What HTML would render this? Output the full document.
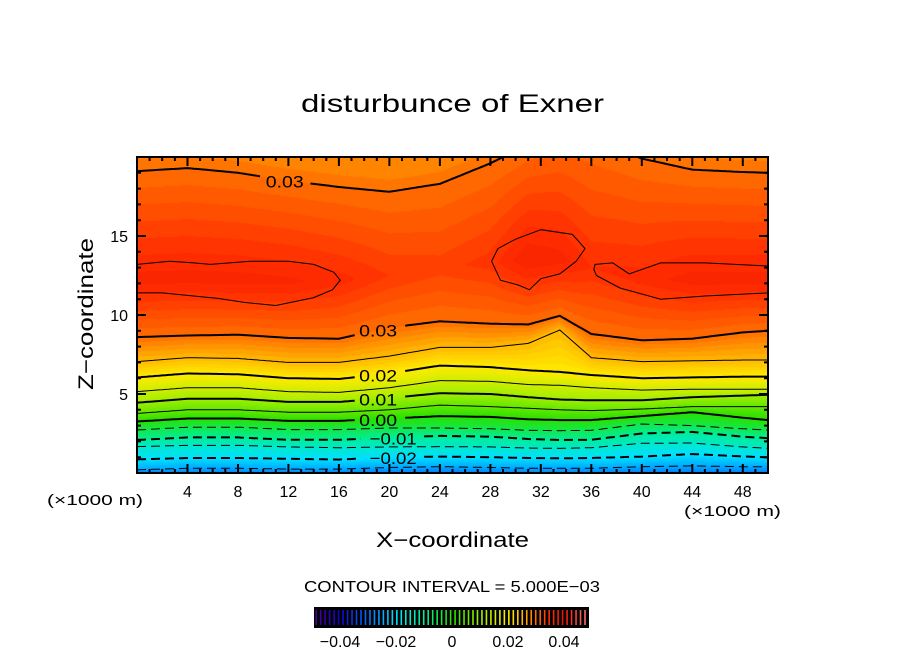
<!DOCTYPE html>
<html><head><meta charset="utf-8"><style>
html,body{margin:0;padding:0;background:#fff;}
#wrap{position:relative;width:904px;height:654px;overflow:hidden;font-family:"Liberation Sans",sans-serif;}
canvas{position:absolute;left:137px;top:157px;}
svg{position:absolute;left:0;top:0;}
</style></head><body>
<div id="wrap">
<canvas id="cv" width="631" height="316"></canvas>
<svg id="sv" width="904" height="654">
<defs><clipPath id="clip"><rect x="137" y="157" width="631" height="316"/></clipPath></defs>
<text x="301" y="112" textLength="303" lengthAdjust="spacingAndGlyphs" font-size="25">disturbunce of Exner</text>
<text x="376" y="547" textLength="153" lengthAdjust="spacingAndGlyphs" font-size="21">X−coordinate</text>
<text transform="translate(93,390) rotate(-90)" textLength="152" lengthAdjust="spacingAndGlyphs" font-size="21">Z−coordinate</text>
<text x="47" y="505" textLength="96" lengthAdjust="spacingAndGlyphs" font-size="15">(×1000 m)</text>
<text x="684" y="516" textLength="97" lengthAdjust="spacingAndGlyphs" font-size="15">(×1000 m)</text>
<text x="304" y="592" textLength="296" lengthAdjust="spacingAndGlyphs" font-size="16">CONTOUR INTERVAL = 5.000E−03</text>
<g id="lines" clip-path="url(#clip)"></g>
<g id="labels"></g>
<g id="axes"></g>
<g id="cbar"></g>
</svg>
</div>
<script>
const xs=[0,4,8,12,16,20,24,28,31,33.5,36,40,44,48,50];
const levels=[-0.025,-0.02,-0.015,-0.01,-0.005,0,0.005,0.01,0.015,0.02,0.025,0.03];
const hM025=[0.2,0.3,0.3,0.25,0.25,0.35,0.4,0.35,0.3,0.3,0.3,0.4,0.45,0.4,0.4];
const hM020=[0.86,0.95,0.95,0.9,0.85,1.0,1.04,1.0,0.95,0.93,0.95,1.04,1.2,1.05,0.99];
const hM015=[1.67,1.75,1.75,1.65,1.6,1.65,1.67,1.65,1.58,1.56,1.6,1.88,1.9,1.65,1.56];
const hM010=[2.09,2.25,2.25,2.1,2.1,2.25,2.35,2.3,2.15,2.09,2.1,2.5,2.6,2.3,2.2];
const hM005=[2.72,2.9,2.9,2.75,2.75,2.85,2.85,2.8,2.7,2.68,2.7,3.1,3.0,2.8,2.72];
const hP000=[3.26,3.45,3.45,3.3,3.3,3.45,3.6,3.55,3.4,3.35,3.35,3.6,3.85,3.5,3.35];
const hP005=[3.77,4.0,4.0,3.85,3.85,4.0,4.3,4.2,4.1,4.0,3.95,4.05,4.2,4.2,4.2];
const hP010=[4.45,4.7,4.7,4.5,4.5,4.75,5.05,5.0,4.8,4.65,4.6,4.6,4.8,4.9,4.95];
const hP015=[5.15,5.4,5.4,5.15,5.1,5.4,5.85,5.8,5.6,5.55,5.4,5.25,5.3,5.3,5.3];
const hP020=[6.05,6.3,6.25,6.0,5.95,6.3,6.8,6.7,6.5,6.4,6.2,6.0,6.05,6.1,6.1];
const hP025=[7.05,7.3,7.25,7.0,7.0,7.4,7.95,7.95,8.2,9.05,7.3,7.05,7.1,7.15,7.15];
const hP030=[8.6,8.7,8.75,8.55,8.5,9.2,9.6,9.45,9.4,9.95,8.8,8.4,8.5,8.9,9.0];
const heights=[hM025,hM020,hM015,hM010,hM005,hP000,hP005,hP010,hP015,hP020,hP025,hP030];
const coreZ=[12.2,12.3,12.2,12.1,12.2,12.5,13,13.3,13.5,13.5,13,12.3,12.2,12.2,12.2];
const coreVal=[0.0365,0.0365,0.0365,0.0363,0.0355,0.034,0.0335,0.0345,0.037,0.0365,0.035,0.0355,0.0365,0.0365,0.0365];
const topZ=[19.1,19.3,19.0,18.5,18.1,17.8,18.3,19.6,20.8,21.5,21.2,19.9,19.2,19.05,19.0];
const bottomVal=-0.029, topLineVal=0.03, aboveTopVal=0.028;
const blobLeft=[[0,13.2],[2.6,13.4],[4.5,13.3],[5.8,13.2],[9,13.4],[12,13.4],[14,13.2],[15.6,12.7],[16.1,12.2],[15.5,11.6],[14,11.1],[11,10.6],[8.5,10.8],[6.4,11.05],[2,11.4],[0,11.4]];
const blobMid=[[32,15.4],[30,14.8],[28.6,14.2],[28.1,13.4],[28.8,12.2],[30.2,11.9],[31.1,11.6],[32,12.3],[33.5,12.6],[34.8,13.4],[35.5,14.2],[34.5,15.1]];
const blobRight=[[36.3,13.2],[37.7,13.3],[39,12.6],[41.5,13.3],[45,13.3],[50,13.1],[50,11.4],[45,11.2],[41.5,11.0],[38.3,11.7],[36.4,12.5],[36.2,12.9]];
const labelText=["","-0.02","","-0.01","","0.00","","0.01","","0.02","","0.03"];
const labelX=[0,18.2,0,18.2,0,17.6,0,17.6,0,17.6,0,17.6];
const topLabelX=10.2;
const xTicks=[4,8,12,16,20,24,28,32,36,40,44,48];
const zTicks=[5,10,15];
const cbTicks=[-0.04,-0.02,0,0.02,0.04];
const cbTickText=["−0.04","−0.02","0","0.02","0.04"];

const L=137,T=157,W=631,H=316;
function sx(x){return L+x*W/50;}
function sz(z){return T+H-z*H/20;}
function interp(arr,x){
  for(let i=0;i<xs.length-1;i++){ if(x<=xs[i+1]){const t=(x-xs[i])/(xs[i+1]-xs[i]);return arr[i]+(arr[i+1]-arr[i])*t;} }
  return arr[arr.length-1];
}
const stops=[[-0.05,[90,0,140]],[-0.04,[20,0,210]],[-0.03,[0,115,255]],[-0.02,[0,225,255]],[-0.01,[0,238,150]],[0,[40,225,0]],[0.01,[160,238,0]],[0.02,[255,235,0]],[0.025,[255,185,0]],[0.03,[255,110,0]],[0.035,[255,45,0]],[0.04,[240,20,0]],[0.05,[255,140,140]]];
function color(v){
  if(v<=stops[0][0])return stops[0][1];
  for(let i=0;i<stops.length-1;i++){ if(v<=stops[i+1][0]){const t=(v-stops[i][0])/(stops[i+1][0]-stops[i][0]);const a=stops[i][1],b=stops[i+1][1];return [a[0]+(b[0]-a[0])*t,a[1]+(b[1]-a[1])*t,a[2]+(b[2]-a[2])*t];} }
  return stops[stops.length-1][1];
}
const cv=document.getElementById('cv'),ctx=cv.getContext('2d');
const img=ctx.createImageData(W,H);
for(let i=0;i<W;i++){
  const x=(i+0.5)*50/W;
  const knots=[[0,bottomVal]];
  for(let k=0;k<levels.length;k++)knots.push([interp(heights[k],x),levels[k]]);
  knots.push([interp(coreZ,x),interp(coreVal,x)]);
  const tz=interp(topZ,x);
  knots.push([tz,topLineVal]);knots.push([tz+1.5,aboveTopVal]);
  for(let j=0;j<H;j++){
    const z=(H-j-0.5)*20/H;
    let v=knots[knots.length-1][1];
    for(let k=0;k<knots.length-1;k++){ if(z<=knots[k+1][0]){const t=(z-knots[k][0])/(knots[k+1][0]-knots[k][0]);v=knots[k][1]+(knots[k+1][1]-knots[k][1])*Math.max(0,Math.min(1,t));break;} }
    v=(Math.floor(v/0.001)+0.5)*0.001;
    const c=color(v),p=(j*W+i)*4;
    img.data[p]=c[0];img.data[p+1]=c[1];img.data[p+2]=c[2];img.data[p+3]=255;
  }
}
ctx.putImageData(img,0,0);
const NS='http://www.w3.org/2000/svg';
function mk(tag,attrs,parent){const e=document.createElementNS(NS,tag);for(const k in attrs)e.setAttribute(k,attrs[k]);parent.appendChild(e);return e;}
const gl=document.getElementById('lines'),glab=document.getElementById('labels');
function linePath(arr,gapLo,gapHi){
  let d='',pen=false;
  for(let x=0;x<=50.001;x+=0.25){
    if(x>gapLo&&x<gapHi){pen=false;continue;}
    d+=(pen?'L':'M')+sx(x).toFixed(1)+' '+sz(interp(arr,x)).toFixed(1)+' ';pen=true;
  }
  return d;
}
for(let k=0;k<levels.length;k++){
  const lv=levels[k];
  const major=Math.abs(Math.round(lv*1000)%10)===0;
  const has=labelText[k]!=="";
  const gLo=has?labelX[k]-0.3:-1,gHi=has?labelX[k]+(labelText[k].length>4?4.4:3.6):-1;
  const p=mk('path',{d:linePath(heights[k],gLo,gHi),fill:'none',stroke:'#000','stroke-width':major?2:1},gl);
  if(lv<0)p.setAttribute('stroke-dasharray','9 5');
  
  
  if(has){
    const long=labelText[k].length>4;
    const t=mk('text',{x:sx(labelX[k])+(long?3:0),y:sz(interp(heights[k],labelX[k]+1.8))+7,'font-size':17,textLength:long?47:38,lengthAdjust:'spacingAndGlyphs'},glab);
    t.textContent=labelText[k].replace('-','−');
    
    
  }
}
const tp=mk('path',{d:linePath(topZ,topLabelX-0.3,topLabelX+3.5),fill:'none',stroke:'#000','stroke-width':2},gl);


const tl=mk('text',{x:sx(topLabelX),y:sz(interp(topZ,topLabelX+1.8))+7,'font-size':17,textLength:38,lengthAdjust:'spacingAndGlyphs'},glab);
tl.textContent='0.03';


[[blobLeft,'blob-left'],[blobMid,'blob-middle'],[blobRight,'blob-right']].forEach(([b,n])=>{
  const d='M'+b.map(p=>sx(p[0]).toFixed(1)+' '+sz(p[1]).toFixed(1)).join(' L')+(b[0][0]===0?'':' Z');
  const e=mk('path',{d:d,fill:'none',stroke:'#000','stroke-width':1},gl);
  
  
});
const ga=document.getElementById('axes');
const fr=mk('rect',{x:L,y:T,width:W,height:H,fill:'none',stroke:'#000','stroke-width':2},ga);


let td='';
for(let x=1;x<50;x++){const len=(x%4===0)?9:4;const X=sx(x).toFixed(1);td+=`M${X} ${T+H}v${-len}M${X} ${T}v${len}`;}
for(let z=1;z<20;z++){const len=(z%5===0)?9:4;const Y=sz(z).toFixed(1);td+=`M${L} ${Y}h${len}M${L+W} ${Y}h${-len}`;}
const tk=mk('path',{d:td,stroke:'#000','stroke-width':2,fill:'none'},ga);


xTicks.forEach(v=>{const t=mk('text',{x:sx(v),y:497,'text-anchor':'middle','font-size':16},ga);t.textContent=v;

});
zTicks.forEach(v=>{const t=mk('text',{x:128,y:sz(v)+6,'text-anchor':'end','font-size':16},ga);t.textContent=v;

});
const gc=document.getElementById('cbar');
const cb0=315,cb1=588,cy=608,ch=19;
const cbg=mk('rect',{x:cb0,y:cy,width:cb1-cb0,height:ch,fill:'#000',stroke:'#000','stroke-width':2},gc);


function cx(v){return 452+v*2800;}
for(let v=-0.0485;v<0.0485;v+=0.0016){
  const c=color(v);
  const ln=mk('line',{x1:cx(v),x2:cx(v),y1:cy+2,y2:cy+ch-2,stroke:`rgb(${c[0]|0},${c[1]|0},${c[2]|0})`,'stroke-width':1.6},gc);
  
  
}
cbTicks.forEach((v,i)=>{const t=mk('text',{x:cx(v),y:647,'text-anchor':'middle','font-size':16},gc);t.textContent=cbTickText[i];

});
</script>
</body></html>
